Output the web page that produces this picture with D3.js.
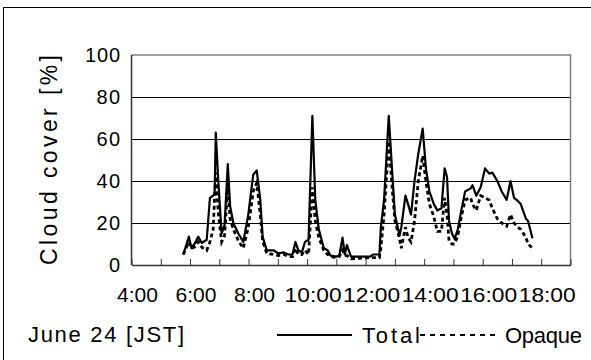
<!DOCTYPE html>
<html>
<head>
<meta charset="utf-8">
<script src="https://cdn.jsdelivr.net/npm/d3@7"></script>
<style>
  body { margin: 0; background: #fff; }
  text { font-family: "Liberation Sans", Arial, sans-serif; fill: #000; }
</style>
</head>
<body>
<script>
var w = 591;
var h = 360;

// time of day (decimal hours, JST)
var hours = [5.77, 5.96, 6.05, 6.15, 6.28, 6.4, 6.57, 6.68, 6.79, 6.84, 6.88, 6.97, 7.08, 7.18, 7.29, 7.37, 7.48, 7.65, 7.82, 7.99,
  8.16, 8.28, 8.4, 8.48, 8.62, 8.85, 9.02, 9.2, 9.37, 9.5, 9.6, 9.7, 9.82, 9.93, 10.05, 10.18, 10.28, 10.4, 10.57, 10.7,
  10.8, 11.0, 11.1, 11.21, 11.29, 11.36, 11.5, 12.16, 12.25, 12.47, 12.52, 12.63, 12.79, 12.9, 13.0, 13.16, 13.22, 13.36, 13.45, 13.55,
  13.67, 13.8, 13.95, 14.06, 14.18, 14.33, 14.45, 14.59, 14.7, 14.78, 14.85, 14.95, 15.04, 15.15, 15.27, 15.4, 15.59, 15.65, 15.78, 15.93,
  16.08, 16.22, 16.33, 16.5, 16.65, 16.82, 16.95, 17.07, 17.2, 17.3, 17.48, 17.55, 17.7];

var total = [5, 13.5, 8, 10, 13.5, 10.5, 12, 32, 33, 34, 63, 39, 15, 19, 48, 28, 20, 15, 11, 24,
  43, 45, 31, 13.5, 7, 7, 5.5, 6, 5, 5, 11, 7, 6, 11, 12, 71, 31, 17, 8, 7,
  4.5, 4, 4.5, 13, 5, 9.5, 4, 4, 5, 5, 18, 31, 71, 46, 24, 14, 18, 33, 29, 24,
  40, 53, 65, 46, 35, 29, 26, 27, 46, 42, 21, 15, 12.5, 17, 26, 35, 36.5, 38, 33, 37,
  46, 43.5, 44, 40, 35, 31, 40, 32, 30.5, 29, 22, 21, 12.7];

var opaque = [5, 11, 8, 8.5, 11, 8.5, 7, 11, 17, 32, 44, 24, 11, 14, 38, 22, 17, 11.5, 8, 18,
  35, 39, 24, 11.5, 5.5, 5, 4.5, 5, 4, 4, 8, 5, 5, 7, 5, 37, 21, 13, 7, 5,
  4, 3.5, 4, 7, 4.5, 4.5, 3, 3.5, 3.5, 3.5, 8, 24, 59, 38, 21, 12.5, 8, 18, 13, 11,
  21, 40, 52, 40, 29, 23, 16, 16, 32, 24, 11.5, 10, 10, 14, 23, 31, 32, 29, 26, 33,
  32, 31, 27, 22, 20, 18.5, 24, 20, 18, 17, 13, 10, 8];

var yTicks = [0, 20, 40, 60, 80, 100];
var hourTicks = [4, 5, 6, 7, 8, 9, 10, 11, 12, 13, 14, 15, 16, 17, 18, 19];
var labelHours = [4, 6, 8, 10, 12, 14, 16, 18];
var labelText = ["4:00", "6:00", "8:00", "10:00", "12:00", "14:00", "16:00", "18:00"];

var svg = d3.select("body")
            .append("svg")
              .attr("width", w)
              .attr("height", h);

// outer chart frame (right and bottom edges fall outside the picture)
svg.append("rect")
   .attr("x", 3.5)
   .attr("y", 7.5)
   .attr("width", 620)
   .attr("height", 400)
   .attr("fill", "none")
   .attr("stroke", "#000")
   .attr("stroke-width", 1);

var x = d3.scaleLinear().domain([4, 19]).range([131.5, 570.5]);
var y = d3.scaleLinear().domain([0, 100]).range([265, 55]);

// gridlines
svg.append("g")
   .attr("transform", "translate(131.5,0)")
   .call(d3.axisLeft(y).tickValues(yTicks.slice(1, 5)).tickSize(-(570.5 - 131.5)).tickFormat(""))
   .call(function(g) { g.select(".domain").remove(); })
   .selectAll("line")
     .attr("stroke", "#000")
     .attr("stroke-width", 1);

// plot area border top / right in grey
svg.append("path")
   .attr("d", "M131.5," + y(100) + "H570.5V265")
   .attr("fill", "none")
   .attr("stroke", "#808080")
   .attr("stroke-width", 1.5);

// x axis with inward ticks
svg.append("g")
   .attr("transform", "translate(0,265)")
   .call(d3.axisBottom(x).tickValues(hourTicks).tickSize(-6).tickSizeOuter(0).tickFormat(""))
   .call(function(g) {
     g.select(".domain").attr("stroke", "#333").attr("stroke-width", 1.5);
     g.selectAll(".tick line").attr("stroke", "#333").attr("stroke-width", 1);
   });

// y axis line
svg.append("line")
   .attr("x1", 131.5).attr("x2", 131.5)
   .attr("y1", y(100)).attr("y2", y(0))
   .attr("stroke", "#333")
   .attr("stroke-width", 1.5);

// y tick labels
svg.selectAll("text.ylab")
   .data(yTicks)
   .enter()
   .append("text")
     .attr("class", "ylab")
     .text(function(d) { return d; })
     .attr("x", 120)
     .attr("y", function(d) { return y(d) + 7; })
     .attr("font-size", "20px")
     .attr("text-anchor", "end")
     .attr("textLength", function(d) { return String(d).length * 11.7; });

// x tick labels
svg.selectAll("text.xlab")
   .data(labelHours)
   .enter()
   .append("text")
     .attr("class", "xlab")
     .text(function(d, i) { return labelText[i]; })
     .attr("x", function(d) { return x(d) + 6; })
     .attr("y", 302)
     .attr("font-size", "21px")
     .attr("text-anchor", "middle")
     .attr("textLength", function(d, i) { return labelText[i].length == 4 ? 41 : 57; })
     .attr("lengthAdjust", "spacingAndGlyphs");

// y axis title
svg.append("text")
   .text("Cloud cover  [%]")
   .attr("transform", "translate(57,160) rotate(-90)")
   .attr("font-size", "23px")
   .attr("text-anchor", "middle")
   .attr("textLength", 210)
   .attr("lengthAdjust", "spacing");

var line = function(vals) {
  return d3.line()
           .x(function(d, i) { return x(hours[i]); })
           .y(function(d) { return y(d); })(vals);
};

svg.append("path")
   .attr("d", line(opaque))
   .attr("fill", "none")
   .attr("stroke", "#000")
   .attr("stroke-width", 2.8)
   .attr("stroke-dasharray", "4,3");

svg.append("path")
   .attr("d", line(total))
   .attr("fill", "none")
   .attr("stroke", "#000")
   .attr("stroke-width", 2.2)
   .attr("stroke-linejoin", "round");

// bottom notes and legend
svg.append("text")
   .text("June 24  [JST]")
   .attr("x", 28)
   .attr("y", 342)
   .attr("font-size", "22px")
   .attr("textLength", 156)
   .attr("lengthAdjust", "spacing");

svg.append("line")
   .attr("x1", 277).attr("x2", 352)
   .attr("y1", 335).attr("y2", 335)
   .attr("stroke", "#000")
   .attr("stroke-width", 2);

svg.append("text")
   .text("Total")
   .attr("x", 362)
   .attr("y", 343)
   .attr("font-size", "22px")
   .attr("textLength", 58)
   .attr("lengthAdjust", "spacing");

svg.append("line")
   .attr("x1", 420).attr("x2", 499)
   .attr("y1", 335).attr("y2", 335)
   .attr("stroke", "#000")
   .attr("stroke-width", 2)
   .attr("stroke-dasharray", "5,5");

svg.append("text")
   .text("Opaque")
   .attr("x", 505)
   .attr("y", 343)
   .attr("font-size", "22px")
   .attr("textLength", 77)
   .attr("lengthAdjust", "spacing");
</script>
</body>
</html>
